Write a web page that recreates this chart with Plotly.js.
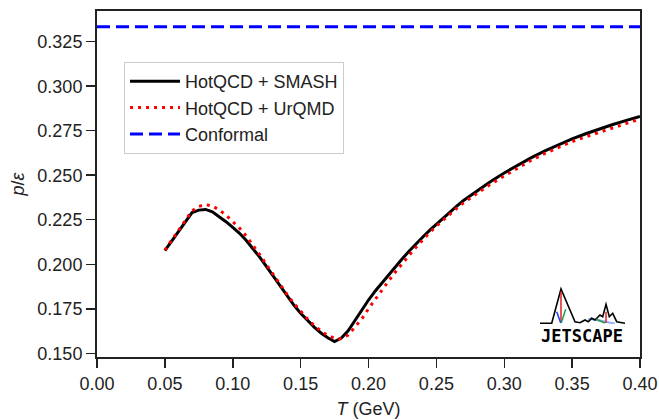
<!DOCTYPE html>
<html>
<head>
<meta charset="utf-8">
<script src="https://cdn.plot.ly/plotly-3.0.1.min.js"></script>
<style>html,body{margin:0;padding:0;background:#fff;}#chart{width:659px;height:420px;}</style>
</head>
<body>
<div id="chart"></div>
<script>
// Temperature grid (GeV) and p/epsilon values
const T_smash = [0.050,0.055,0.060,0.065,0.070,0.075,0.080,0.085,0.090,0.095,0.100,0.105,0.110,0.115,0.120,0.125,0.130,0.135,0.140,0.145,0.150,0.155,0.160,0.165,0.170,0.175,0.180,0.185,0.190,0.195,0.200,0.205,0.210,0.215,0.220,0.225,0.230,0.235,0.240,0.245,0.250,0.255,0.260,0.265,0.270,0.280,0.290,0.300,0.310,0.320,0.330,0.340,0.350,0.360,0.370,0.380,0.390,0.400];
const p_smash = [0.2077,0.2132,0.2187,0.2240,0.2290,0.2304,0.2308,0.2295,0.2268,0.2239,0.2207,0.2174,0.2133,0.2088,0.2039,0.1985,0.1930,0.1876,0.1822,0.1771,0.1725,0.1684,0.1647,0.1614,0.1587,0.1566,0.1585,0.1626,0.1686,0.1745,0.1799,0.1850,0.1897,0.1943,0.1989,0.2032,0.2074,0.2115,0.2153,0.2190,0.2225,0.2260,0.2293,0.2326,0.2358,0.2413,0.2465,0.2513,0.2558,0.2599,0.2637,0.2672,0.2704,0.2733,0.2760,0.2785,0.2808,0.2830];

const T_urqmd = [0.050,0.055,0.060,0.065,0.070,0.075,0.080,0.085,0.090,0.095,0.100,0.105,0.110,0.115,0.120,0.125,0.130,0.135,0.140,0.145,0.150,0.155,0.160,0.165,0.170,0.175,0.178,0.180,0.185,0.190,0.195,0.200,0.205,0.210,0.215,0.220,0.225,0.230,0.235,0.240,0.245,0.250,0.255,0.260,0.265,0.270,0.280,0.290,0.300,0.310,0.320,0.330,0.340,0.350,0.360,0.370,0.380,0.390,0.400];
const p_urqmd = [0.2080,0.2136,0.2192,0.2247,0.2300,0.2325,0.2335,0.2327,0.2305,0.2276,0.2242,0.2203,0.2158,0.2108,0.2053,0.1996,0.1940,0.1885,0.1831,0.1780,0.1734,0.1693,0.1656,0.1625,0.1600,0.1584,0.1580,0.1583,0.1602,0.1645,0.1692,0.1750,0.1805,0.1857,0.1908,0.1958,0.2006,0.2051,0.2095,0.2138,0.2178,0.2214,0.2249,0.2282,0.2314,0.2345,0.2400,0.2450,0.2496,0.2541,0.2584,0.2623,0.2658,0.2689,0.2716,0.2742,0.2767,0.2791,0.2815];

const T_conformal = [0.0, 0.4];
const p_conformal = [1/3, 1/3];

const seriesNames = ["HotQCD + SMASH", "HotQCD + UrQMD", "Conformal"];
const xTicks = [0.00,0.05,0.10,0.15,0.20,0.25,0.30,0.35,0.40];
const yTicks = [0.150,0.175,0.200,0.225,0.250,0.275,0.300,0.325];

const FONT = "Liberation Sans, Arial, sans-serif";

const traces = [
  {x:T_smash, y:p_smash, name:seriesNames[0], mode:"lines", line:{color:"#000000", width:3}},
  {x:T_urqmd, y:p_urqmd, name:seriesNames[1], mode:"lines", line:{color:"#ff0000", width:3, dash:"3px,5px"}},
  {x:T_conformal, y:p_conformal, name:seriesNames[2], mode:"lines", line:{color:"#0000ff", width:3, dash:"13px,6px"}}
];

// logo decoration (pixel -> paper helper)
const L=97, R=640, TOP=11, BOT=357;
const px = v => (v-L)/(R-L);
const py = v => (BOT-v)/(BOT-TOP);
function pathOf(pts){return pts.map((p,i)=>(i?"L":"M")+px(p[0]).toFixed(4)+","+py(p[1]).toFixed(4)).join(" ");}
const mountain = [[540,323.3],[551.7,323.3],[561,289],[575,321.7],[580,322.7],[585,320],[588.3,321.7],[591.7,318.3],[595,320],[600,315],[602.7,316.7],[606,304.3],[609.3,316.7],[612.7,313.3],[616.7,321.7],[625,323.3]];

const shapes = [
  {type:"path", xref:"paper", yref:"paper", path:pathOf([[591,318],[615,323.3],[611,323.3],[588,319]])+" Z", fillcolor:"#8fa8ff", line:{color:"#8fa8ff",width:1}},
  {type:"path", xref:"paper", yref:"paper", path:pathOf(mountain), line:{color:"#000",width:1.6}},
  {type:"path", xref:"paper", yref:"paper", path:pathOf([[561,291.5],[561,323]]), line:{color:"#e0202a",width:1.5}},
  {type:"path", xref:"paper", yref:"paper", path:pathOf([[556.7,311.7],[560.7,323]]), line:{color:"#2040ff",width:1.5}},
  {type:"path", xref:"paper", yref:"paper", path:pathOf([[565.7,309.3],[561.2,323]]), line:{color:"#20a040",width:1.5}},
  {type:"path", xref:"paper", yref:"paper", path:pathOf([[606,311.7],[606,323]]), line:{color:"#e0202a",width:1.5}},
  {type:"path", xref:"paper", yref:"paper", path:pathOf([[596,319.3],[605,323]]), line:{color:"#20a040",width:1.5}}
];

const layout = {
  width:659, height:420,
  margin:{l:97, r:19, t:11, b:63},
  paper_bgcolor:"#ffffff", plot_bgcolor:"#ffffff",
  font:{family:FONT, size:18, color:"#222"},
  showlegend:true,
  legend:{x:px(124), y:py(62), xanchor:"left", yanchor:"top", bgcolor:"rgba(255,255,255,0.8)", bordercolor:"#cccccc", borderwidth:1, font:{family:FONT, size:18, color:"#222"}, itemwidth:50, tracegroupgap:0},
  xaxis:{range:[0,0.4], tickvals:xTicks, ticktext:xTicks.map(v=>v.toFixed(2)), ticks:"outside", ticklen:9, tickwidth:1.5, tickcolor:"#222", showline:true, linewidth:2, linecolor:"#222", mirror:true, showgrid:false, zeroline:false, tickfont:{size:18, family:FONT, color:"#222"},
    title:{text:"<i>T</i> (GeV)", font:{size:18, family:FONT, color:"#222"}, standoff:10}},
  yaxis:{range:[0.1479,0.34225], tickvals:yTicks, ticktext:yTicks.map(v=>v.toFixed(3)), ticks:"outside", ticklen:9, tickwidth:1.5, tickcolor:"#222", showline:true, linewidth:2, linecolor:"#222", mirror:true, showgrid:false, zeroline:false, tickfont:{size:18, family:FONT, color:"#222"},
    title:{text:"<i>p</i>/<i>ε</i>", font:{size:18, family:FONT, color:"#222"}, standoff:8}},
  shapes:shapes,
  annotations:[{xref:"paper", yref:"paper", x:px(582), y:py(335.5), text:"<b>JETSCAPE</b>", showarrow:false, font:{family:"DejaVu Sans Mono, monospace", size:17, color:"#000"}, xanchor:"center", yanchor:"middle"}]
};

Plotly.newPlot("chart", traces, layout, {displayModeBar:false, staticPlot:true});
</script>
</body>
</html>
